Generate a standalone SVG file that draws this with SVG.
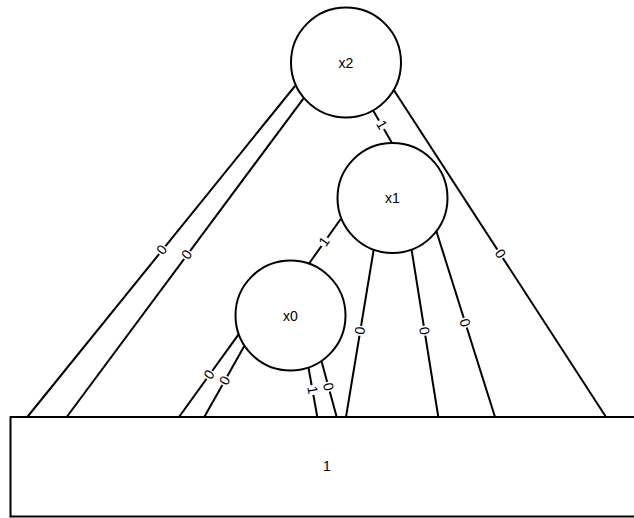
<svg xmlns="http://www.w3.org/2000/svg" width="634" height="518" viewBox="0 0 634 518">
<style>
.node circle{fill:#fff;stroke:#000;stroke-width:2}
.term rect{fill:#fff;stroke:#000;stroke-width:2}
.lbl{font-family:"Liberation Sans",Arial,sans-serif;font-size:14px;fill:#000;text-anchor:middle;dominant-baseline:central}
.edges line{stroke:#000;stroke-width:2}
.edges rect{fill:#fff;stroke:none}
.el{font-family:"Liberation Sans",Arial,sans-serif;font-size:14px;fill:#000;text-anchor:middle;dominant-baseline:central}
</style>
<rect width="634" height="518" fill="#fff"/>
<g id="edges" class="edges">
  <line x1="295" y1="86" x2="27.3" y2="417"/>
  <line x1="304.3" y1="97.3" x2="66.7" y2="417"/>
  <line x1="371.7" y1="108" x2="391.7" y2="142.5"/>
  <line x1="393.3" y1="89.3" x2="606" y2="417"/>
  <line x1="340.7" y1="219" x2="308" y2="265"/>
  <line x1="374.3" y1="246" x2="346" y2="417"/>
  <line x1="411" y1="246" x2="438.3" y2="417"/>
  <line x1="436" y1="230" x2="495" y2="417"/>
  <line x1="239.3" y1="333.3" x2="179" y2="417"/>
  <line x1="244.3" y1="346" x2="204.3" y2="417"/>
  <line x1="307.7" y1="363.3" x2="317.3" y2="417"/>
  <line x1="320.7" y1="358.3" x2="336.7" y2="417"/>
  <g transform="translate(161.5,249.5) rotate(-51)"><rect x="-5" y="-6" width="10" height="12"/><text class="el" x="0" y="0">0</text></g>
  <g transform="translate(186.5,254.5) rotate(-53.4)"><rect x="-5" y="-6" width="10" height="12"/><text class="el" x="0" y="0">0</text></g>
  <g transform="translate(382,124.5) rotate(59.9)"><rect x="-5" y="-6" width="10" height="12"/><text class="el" x="0" y="0">1</text></g>
  <g transform="translate(500.5,253.5) rotate(57)"><rect x="-5" y="-6" width="10" height="12"/><text class="el" x="0" y="0">0</text></g>
  <g transform="translate(324,241.5) rotate(-54.8)"><rect x="-5" y="-6" width="10" height="12"/><text class="el" x="0" y="0">1</text></g>
  <g transform="translate(359.7,330.7) rotate(-80.6)"><rect x="-5" y="-6" width="10" height="12"/><text class="el" x="0" y="0">0</text></g>
  <g transform="translate(424.5,330.7) rotate(80.9)"><rect x="-5" y="-6" width="10" height="12"/><text class="el" x="0" y="0">0</text></g>
  <g transform="translate(465.2,322.7) rotate(72.5)"><rect x="-5" y="-6" width="10" height="12"/><text class="el" x="0" y="0">0</text></g>
  <g transform="translate(209,374.5) rotate(-54.2)"><rect x="-5" y="-6" width="10" height="12"/><text class="el" x="0" y="0">0</text></g>
  <g transform="translate(224.5,380.5) rotate(-60.6)"><rect x="-5" y="-6" width="10" height="12"/><text class="el" x="0" y="0">0</text></g>
  <g transform="translate(312.8,390) rotate(79.9)"><rect x="-5" y="-6" width="10" height="12"/><text class="el" x="0" y="0">1</text></g>
  <g transform="translate(328.6,386.7) rotate(74.8)"><rect x="-5" y="-6" width="10" height="12"/><text class="el" x="0" y="0">0</text></g>
</g>
<g id="x2" class="node"><circle cx="346" cy="62.5" r="55"/><text class="lbl" x="346" y="62.5">x2</text></g>
<g id="x1" class="node"><circle cx="392.5" cy="198" r="55"/><text class="lbl" x="392.5" y="198">x1</text></g>
<g id="x0" class="node"><circle cx="290.5" cy="315.5" r="55"/><text class="lbl" x="290.5" y="315.5">x0</text></g>
<g id="one" class="term"><rect x="10.5" y="417" width="640" height="99.5"/><text class="lbl" x="327" y="466">1</text></g>
</svg>
